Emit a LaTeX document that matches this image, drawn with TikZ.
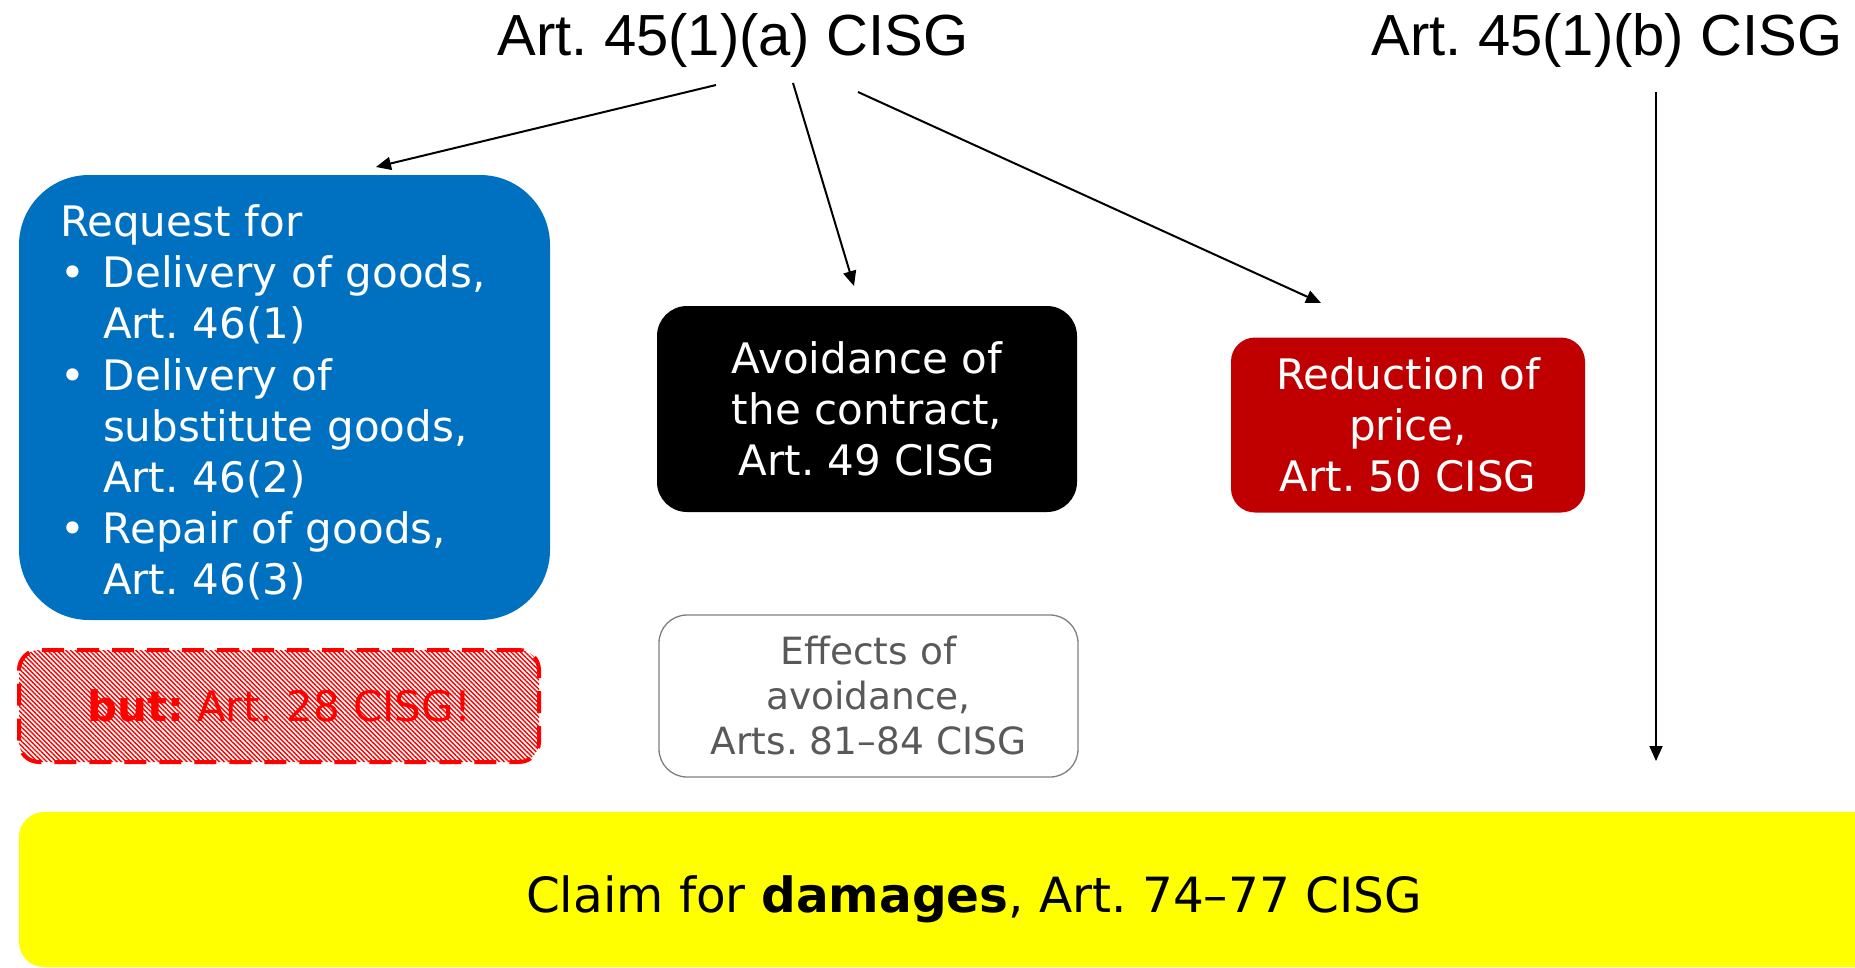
\documentclass[tikz,border=0pt]{standalone}
\usepackage{fontspec}
\setmainfont{DejaVu Sans}
\newfontfamily\arialfont{Liberation Sans}
\usetikzlibrary{arrows.meta,patterns.meta}
\definecolor{boxblue}{HTML}{0070C0}
\definecolor{boxred}{HTML}{C00000}
\definecolor{dashred}{HTML}{FF0000}
\definecolor{effgray}{HTML}{595959}
\definecolor{bordgray}{HTML}{7F7F7F}
\definecolor{baryellow}{HTML}{FFFF00}
\frenchspacing
\begin{document}
\begin{tikzpicture}[x=1pt,y=-1pt,
  conn/.style={line width=2pt,-{Triangle[length=15pt,width=13pt]}},
  titletext/.style={font=\arialfont\fontsize{58}{66}\selectfont,inner sep=0pt},
  boxtext/.style={font=\fontsize{42}{51.2}\selectfont,inner sep=0pt,align=center},
]
\useasboundingbox (0,0) rectangle (1855,967);

% titles
\node[titletext] (ta) at (733,40) {Art. 45(1)(a) CISG};
\node[titletext] (tb) at (1607,40) {Art. 45(1)(b) CISG};

% blue box
\node[boxtext,fill=boxblue,text=white,rounded corners=70pt,minimum width=531pt,minimum height=445pt,
      text width=449pt,align=left] (req) at (284.5,397.5)
{\rule{0pt}{42pt}Request for\\
\makebox[43pt][l]{•}Delivery of goods,\\
\hspace*{43pt}Art. 46(1)\\
\makebox[43pt][l]{•}Delivery of\\
\hspace*{43pt}substitute goods,\\
\hspace*{43pt}Art. 46(2)\\
\makebox[43pt][l]{•}Repair of goods,\\
\hspace*{43pt}Art. 46(3)};

% black box
\node[boxtext,fill=black,text=white,rounded corners=30pt,minimum width=420pt,minimum height=206pt] (avoid) at (867,409)
{Avoidance of\\the contract,\\Art. 49 CISG};

% red box
\node[boxtext,fill=boxred,text=white,rounded corners=24pt,minimum width=354pt,minimum height=175pt] (price) at (1408,425)
{Reduction of\\price,\\Art. 50 CISG};

% dashed "but" box
\node[boxtext,text=dashred,draw=dashred,line width=4pt,dash pattern=on 22pt off 13pt,
      pattern={Lines[angle=-45,distance=3.3pt,line width=1.4pt]},pattern color=dashred,
      rounded corners=20pt,minimum width=520pt,minimum height=112pt] (but) at (279,706)
{\textbf{but:} Art. 28 CISG!};

% effects box
\node[font=\fontsize{37.5}{45}\selectfont,inner sep=0pt,align=center,text=effgray,draw=bordgray,line width=1.3pt,
      rounded corners=28pt,minimum width=419pt,minimum height=162pt] (eff) at (868.5,696)
{Effects of\\avoidance,\\Arts. 81–84 CISG};

% yellow bar
\node[font=\fontsize{48.5}{56}\selectfont,inner sep=0pt,fill=baryellow,rounded corners=25pt,
      minimum width=1910pt,minimum height=155pt,text depth=0pt] (dam) at (974,889.5)
{\raisebox{-9pt}{Claim for \textbf{damages}, Art. 74–77 CISG}};

% connectors
\coordinate (a1s) at (716,85);
\coordinate (a1e) at (376,167);
\coordinate (a2s) at (793,83);
\coordinate (a2e) at (854,286);
\coordinate (a3s) at (858,92);
\coordinate (a3e) at (1321,303);
\coordinate (a4s) at (1656,92);
\coordinate (a4e) at (1656,761);
\draw[conn] (a1s) -- (a1e);
\draw[conn] (a2s) -- (a2e);
\draw[conn] (a3s) -- (a3e);
\draw[conn] (a4s) -- (a4e);
\end{tikzpicture}
\end{document}
